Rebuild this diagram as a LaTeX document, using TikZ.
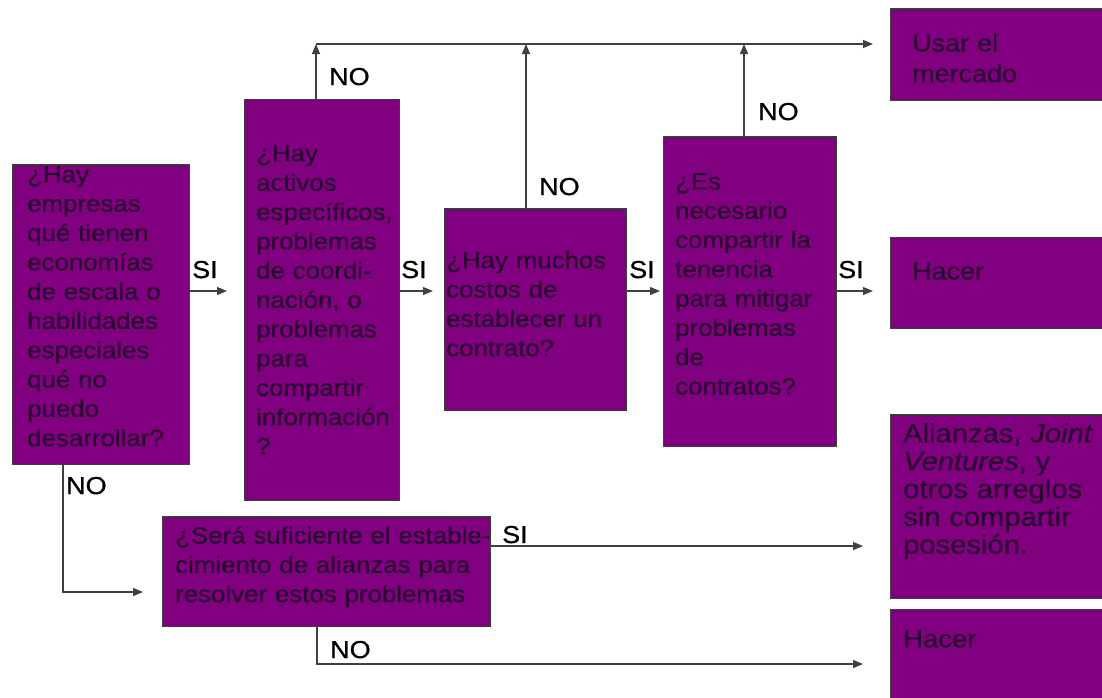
\documentclass[tikz,border=0pt]{standalone}
\usepackage{fontspec}
\setmainfont{Liberation Sans}[FakeStretch=1.1]
\newfontfamily\labelfont{Liberation Sans}[FakeStretch=1.1,FakeBold=0.8]
\newfontfamily\boxfont{Liberation Sans}[FakeStretch=1.1,FakeBold=0.4,
  ItalicFont=Liberation Sans Italic]
\usetikzlibrary{arrows.meta,calc}
\definecolor{boxfill}{HTML}{800080}
\definecolor{boxtext}{HTML}{2A0430}
\definecolor{linegray}{HTML}{404040}

\begin{document}
\begin{tikzpicture}[x=1pt,y=-1pt,
  box/.style={draw=black!75, line width=0.8pt, fill=boxfill, rectangle,
    inner sep=0pt, outer sep=0pt, anchor=north west},
  boxtxt/.style={anchor=north west, inner sep=0pt, text=boxtext, align=left,
    font=\boxfont\fontsize{23.5}{29.3}\selectfont},
  lbl/.style={anchor=base west, inner sep=0pt, text=black,
    font=\labelfont\fontsize{24.5}{29}\selectfont},
  conn/.style={draw=linegray, line width=1.2pt},
  arr/.style={conn, -{Triangle[length=10pt,width=8pt]}}]

\clip (0,0) rectangle (1102,697);
\fill[white] (0,0) rectangle (1102,697);

% reference rows for the connectors
\coordinate (top) at (0,44);
\coordinate (row) at (0,291);
\coordinate (low) at (0,592);
\coordinate (alrow) at (0,546);

% question boxes
\node[box, minimum width=177, minimum height=300] (b1) at (12,164) {};
\node[box, minimum width=155, minimum height=401] (b2) at (244,99) {};
\node[box, minimum width=182, minimum height=202] (b3) at (444,208) {};
\node[box, minimum width=173, minimum height=310] (b4) at (663,136) {};
\node[box, minimum width=328, minimum height=110] (b5) at (162,516) {};

% outcome boxes
\node[box, minimum width=240, minimum height=92]  (m)  at (890,8) {};
\node[box, minimum width=240, minimum height=91]  (h1) at (890,237) {};
\node[box, minimum width=240, minimum height=184] (al) at (890,414) {};
\node[box, minimum width=240, minimum height=110] (h2) at (890,609) {};

% box texts
\node[boxtxt, text width=170] (t1) at (27,166)
  {¿Hay\\empresas\\qué tienen\\economías\\de escala o\\habilidades\\especiales\\qué no\\puedo\\desarrollar?};
\node[boxtxt, text width=150] (t2) at (256,145)
  {¿Hay\\activos\\específicos,\\problemas\\de coordi-\\nación, o\\problemas\\para\\compartir\\información\\?};
\node[boxtxt, text width=180] (t3) at (446,251)
  {¿Hay muchos\\costos de\\establecer un\\contrato?};
\node[boxtxt, text width=170] (t4) at (675,173)
  {¿Es\\necesario\\compartir la\\tenencia\\para mitigar\\problemas\\de\\contratos?};
\node[boxtxt, text width=330] (t5) at (175,526)
  {¿Será suficiente el estable-\\cimiento de alianzas para\\resolver estos problemas};
\node[boxtxt, text width=190, font=\boxfont\fontsize{24.5}{30.5}\selectfont] (tm) at (912,33.5)
  {Usar el\\mercado};
\node[boxtxt, text width=190, font=\boxfont\fontsize{24.5}{30}\selectfont] (th1) at (912,262.5)
  {Hacer};
\node[boxtxt, text width=210, font=\boxfont\fontsize{26.5}{27.8}\selectfont] (tal) at (903,423)
  {Alianzas, \textit{Joint}\\\textit{Ventures}, y\\otros arreglos\\sin compartir\\posesión.};
\node[boxtxt, text width=190, font=\boxfont\fontsize{25}{30}\selectfont] (th2) at (903,630)
  {Hacer};

% NO branches up to the market
\draw[arr] ([xshift=72pt]b2.north west) -- ([xshift=72pt]b2.north west |- top);
\draw[arr] ([xshift=82pt]b3.north west) -- ([xshift=82pt]b3.north west |- top);
\draw[arr] ([xshift=81pt]b4.north west) -- ([xshift=81pt]b4.north west |- top);
\draw[arr] ([xshift=72pt]b2.north west |- top) -- ([xshift=-17pt]m.west |- top);

% SI chain
\draw[arr] (b1.east |- row) -- ([xshift=-17pt]b2.west |- row);
\draw[arr] (b2.east |- row) -- ([xshift=-11pt]b3.west |- row);
\draw[arr] (b3.east |- row) -- ([xshift=-3pt]b4.west |- row);
\draw[arr] (b4.east |- row) -- ([xshift=-17pt]h1.west |- row);

% lower branches
\draw[arr] ([xshift=51pt]b1.south west) |- ([xshift=-19pt]b5.west |- low);
\draw[arr] (b5.east |- alrow) -- ([xshift=-27pt]al.west |- alrow);
\draw[arr] ([xshift=155pt]b5.south west) |- ([xshift=-27pt]h2.west);

% branch labels
\node[lbl] (n2) at (329,85) {NO};
\node[lbl] (n3) at (539,195) {NO};
\node[lbl] (n4) at (758,120) {NO};
\node[lbl] (n1) at (66,494) {NO};
\node[lbl] (n5) at (330,658) {NO};
\node[lbl] (s1) at (192,278) {SI};
\node[lbl] (s2) at (401,278) {SI};
\node[lbl] (s3) at (629,278) {SI};
\node[lbl] (s4) at (838,278) {SI};
\node[lbl] (s5) at (502,543) {SI};
\end{tikzpicture}
\end{document}
